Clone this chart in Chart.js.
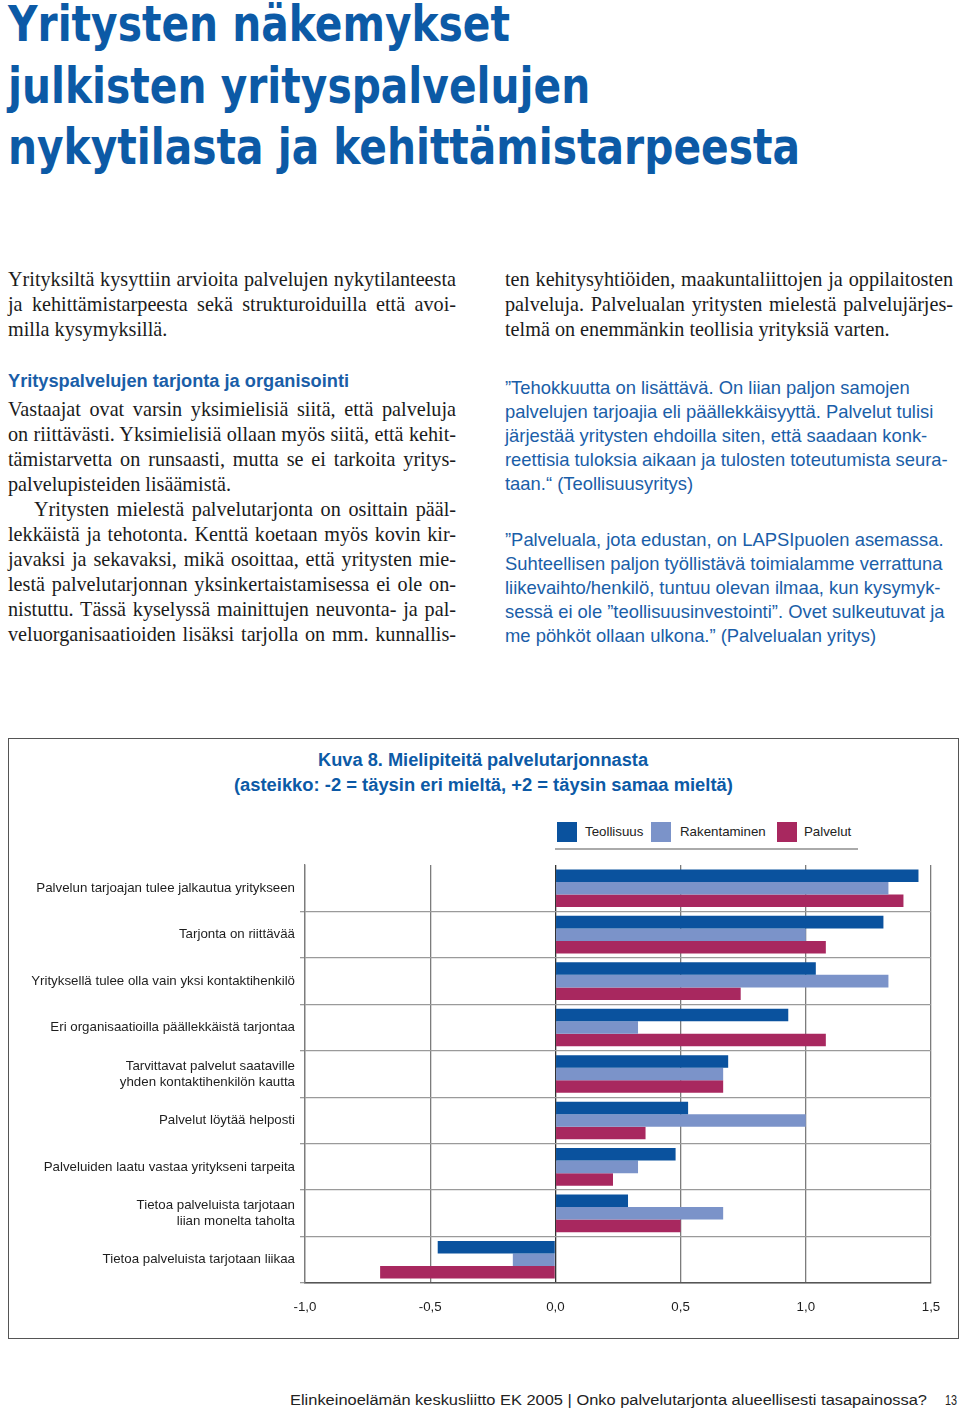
<!DOCTYPE html>
<html lang="fi">
<head>
<meta charset="utf-8">
<script src="https://cdn.jsdelivr.net/npm/chart.js@4.4.1/dist/chart.umd.min.js"></script>
<style>
  body { margin: 0; width: 960px; height: 1412px; position: relative; background: #fff; overflow: hidden; }
  .abs { position: absolute; }
  .fit { display: inline-block; white-space: nowrap; }
  #title { left: 8px; top: -6px; color: #0c5aa6; font-family: "DejaVu Sans Condensed", "DejaVu Sans", sans-serif; font-weight: bold; font-size: 50px; line-height: 61.5px; }
  #title .fit { transform-origin: left center; }
  .serif { font-family: "Liberation Serif", "Times New Roman", serif; font-size: 20.2px; line-height: 25px; color: #1b1b1b; width: 448px; }
  .serif div { white-space: nowrap; }
  .serif .j { text-align: justify; text-align-last: justify; }
  .head { font-family: "Liberation Sans", Arial, sans-serif; font-weight: bold; font-size: 18px; line-height: 25px; color: #1a5ea8; }
  .quote { font-family: "Liberation Sans", Arial, sans-serif; font-size: 18.4px; line-height: 24px; color: #1a5ea8; }
  .quote div { white-space: nowrap; }
  #box { left: 8px; top: 738px; width: 951px; height: 601px; box-sizing: border-box; border: 1.5px solid #555; }
  #ctitle { left: 8px; width: 951px; top: 748px; text-align: center; color: #0c5aa6; font-family: "Liberation Sans", Arial, sans-serif; font-weight: bold; font-size: 18px; line-height: 25px; }
  #legend { left: 555px; top: 820px; width: 303px; height: 28px; border-bottom: 2px solid #aaa; font-family: "Liberation Sans", Arial, sans-serif; font-size: 13.3px; color: #222; }
  #legend span.sw { position: absolute; top: 2px; width: 20px; height: 20px; }
  #legend span.tx { position: absolute; top: 4px; }
  #chartwrap { left: 9px; top: 739px; width: 948px; height: 598px; }
  .foot { top: 1391px; font-family: "Liberation Sans", Arial, sans-serif; font-size: 15.2px; color: #222; white-space: nowrap; }
</style>
</head>
<body>

<div id="title" class="abs">
  <div><span class="fit">Yritysten näkemykset</span></div>
  <div><span class="fit">julkisten yrityspalvelujen</span></div>
  <div><span class="fit">nykytilasta ja kehittämistarpeesta</span></div>
</div>

<div class="abs serif" style="left:8px; top:267px;">
  <div class="j">Yrityksiltä kysyttiin arvioita palvelujen nykytilanteesta</div>
  <div class="j">ja kehittämistarpeesta sekä strukturoiduilla että avoi-</div>
  <div>milla kysymyksillä.</div>
</div>

<div class="abs head" style="left:8px; top:369px;"><span class="fit" id="h1">Yrityspalvelujen tarjonta ja organisointi</span></div>

<div class="abs serif" style="left:8px; top:397px;">
  <div class="j">Vastaajat ovat varsin yksimielisiä siitä, että palveluja</div>
  <div class="j">on riittävästi. Yksimielisiä ollaan myös siitä, että kehit-</div>
  <div class="j">tämistarvetta on runsaasti, mutta se ei tarkoita yritys-</div>
  <div>palvelupisteiden lisäämistä.</div>
  <div class="j" style="padding-left:26px;">Yritysten mielestä palvelutarjonta on osittain pääl-</div>
  <div class="j">lekkäistä ja tehotonta. Kenttä koetaan myös kovin kir-</div>
  <div class="j">javaksi ja sekavaksi, mikä osoittaa, että yritysten mie-</div>
  <div class="j">lestä palvelutarjonnan yksinkertaistamisessa ei ole on-</div>
  <div class="j">nistuttu. Tässä kyselyssä mainittujen neuvonta- ja pal-</div>
  <div class="j">veluorganisaatioiden lisäksi tarjolla on mm. kunnallis-</div>
</div>

<div class="abs serif" style="left:505px; top:267px;">
  <div class="j">ten kehitysyhtiöiden, maakuntaliittojen ja oppilaitosten</div>
  <div class="j">palveluja. Palvelualan yritysten mielestä palvelujärjes-</div>
  <div>telmä on enemmänkin teollisia yrityksiä varten.</div>
</div>

<div class="abs quote" style="left:505px; top:376px;">
  <div>”Tehokkuutta on lisättävä. On liian paljon samojen</div>
  <div>palvelujen tarjoajia eli päällekkäisyyttä. Palvelut tulisi</div>
  <div>järjestää yritysten ehdoilla siten, että saadaan konk-</div>
  <div>reettisia tuloksia aikaan ja tulosten toteutumista seura-</div>
  <div>taan.“ (Teollisuusyritys)</div>
</div>

<div class="abs quote" style="left:505px; top:528px;">
  <div>”Palveluala, jota edustan, on LAPSIpuolen asemassa.</div>
  <div>Suhteellisen paljon työllistävä toimialamme verrattuna</div>
  <div>liikevaihto/henkilö, tuntuu olevan ilmaa, kun kysymyk-</div>
  <div>sessä ei ole ”teollisuusinvestointi”. Ovet sulkeutuvat ja</div>
  <div>me pöhköt ollaan ulkona.” (Palvelualan yritys)</div>
</div>

<div id="box" class="abs"></div>
<div id="ctitle" class="abs">
  <div><span class="fit" id="ct1">Kuva 8. Mielipiteitä palvelutarjonnasta</span></div>
  <div><span class="fit" id="ct2">(asteikko: -2 = täysin eri mieltä, +2 = täysin samaa mieltä)</span></div>
</div>
<div id="legend" class="abs"></div>
<div id="chartwrap" class="abs"><canvas id="chart" width="948" height="598"></canvas></div>

<div class="abs foot" style="left:290px;"><span class="fit" id="foot1">Elinkeinoelämän keskusliitto EK 2005 | Onko palvelutarjonta alueellisesti tasapainossa?</span></div>
<div class="abs foot" style="left:945px;"><span class="fit" id="foot2">13</span></div>

<script>
// väittämät (ylhäältä alas)
const categories = [
  "Palvelun tarjoajan tulee jalkautua yritykseen",
  "Tarjonta on riittävää",
  "Yrityksellä tulee olla vain yksi kontaktihenkilö",
  "Eri organisaatioilla päällekkäistä tarjontaa",
  ["Tarvittavat palvelut saataville", "yhden kontaktihenkilön kautta"],
  "Palvelut löytää helposti",
  "Palveluiden laatu vastaa yritykseni tarpeita",
  ["Tietoa palveluista tarjotaan", "liian monelta taholta"],
  "Tietoa palveluista tarjotaan liikaa"
];
const seriesNames = ["Teollisuus", "Rakentaminen", "Palvelut"];
const seriesColors = ["#0a529e", "#7b93c9", "#a8285f"];
const teollisuus   = [1.45, 1.31, 1.04, 0.93, 0.69, 0.53, 0.48, 0.29, -0.47];
const rakentaminen = [1.33, 1.00, 1.33, 0.33, 0.67, 1.00, 0.33, 0.67, -0.17];
const palvelut     = [1.39, 1.08, 0.74, 1.08, 0.67, 0.36, 0.23, 0.50, -0.70];
const xTicks = [-1, -0.5, 0, 0.5, 1, 1.5];

// otsikkorivien leveyden sovitus
function fit(el, target, origin) {
  const w = el.getBoundingClientRect().width;
  el.style.transformOrigin = origin || "left center";
  el.style.transform = "scaleX(" + (target / w) + ")";
}
const titleLines = document.querySelectorAll("#title .fit");
const k = 792 / titleLines[2].getBoundingClientRect().width;
titleLines.forEach(el => el.style.transform = "scaleX(" + k + ")");
fit(document.getElementById("ct1"), 330, "center center");
fit(document.getElementById("ct2"), 499, "center center");
fit(document.getElementById("h1"), 341);
fit(document.getElementById("foot1"), 637);
fit(document.getElementById("foot2"), 12);

// selite
const legend = document.getElementById("legend");
const legendPos = [[2, 30], [96, 125], [222, 249]];
seriesNames.forEach((name, i) => {
  const sw = document.createElement("span");
  sw.className = "sw";
  sw.style.left = legendPos[i][0] + "px";
  sw.style.background = seriesColors[i];
  const tx = document.createElement("span");
  tx.className = "tx";
  tx.style.left = legendPos[i][1] + "px";
  tx.textContent = name;
  legend.appendChild(sw);
  legend.appendChild(tx);
});

Chart.defaults.font.family = "'Liberation Sans', Arial, sans-serif";
Chart.defaults.color = "#1e1e1e";

const values = [teollisuus, rakentaminen, palvelut];
const ctx = document.getElementById("chart");
const chart = new Chart(ctx, {
  type: "bar",
  data: {
    labels: categories,
    datasets: seriesNames.map((name, i) => ({
      label: name,
      data: values[i],
      backgroundColor: seriesColors[i],
      borderWidth: 0,
      categoryPercentage: 0.81,
      barPercentage: 1.0,
    })),
  },
  options: {
    indexAxis: "y",
    responsive: false,
    animation: false,
    layout: { padding: { top: 126, right: 26, bottom: 14, left: 0 } },
    plugins: { legend: { display: false }, tooltip: { enabled: false } },
    scales: {
      x: {
        min: -1,
        max: 1.5,
        afterBuildTicks: (scale) => {
          scale.ticks = xTicks.map((v) => ({ value: v }));
        },
        afterFit: (scale) => { scale.height = 40; },
        ticks: {
          font: { size: 13.3 },
          padding: 16,
          callback: (v) => v.toFixed(1).replace(".", ","),
        },
        grid: {
          drawTicks: false,
          lineWidth: 1.3,
          color: (c) => (c.tick && c.tick.value === 0 ? "#333" : "#7c7c7c"),
        },
        border: { color: "#555", width: 1.5 },
      },
      y: {
        afterFit: (scale) => { scale.width = 296; },
        ticks: { font: { size: 13.3 }, padding: 5 },
        grid: {
          tickLength: 5,
          lineWidth: 1.3,
          color: (c) => (c.index === 0 ? "rgba(0,0,0,0)" : "#9a9a9a"),
        },
        border: { color: "#7c7c7c", width: 1.3 },
      },
    },
  },
});
</script>
</body>
</html>
